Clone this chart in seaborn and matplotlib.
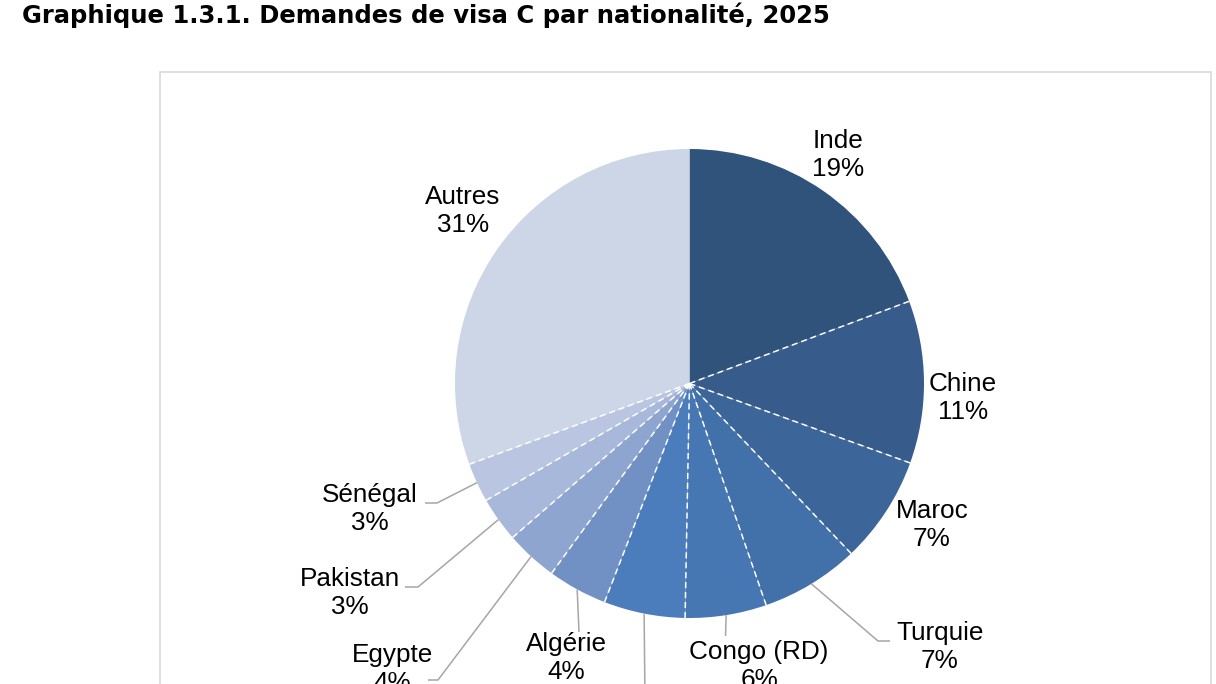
import numpy as np
import matplotlib
matplotlib.use("Agg")
import matplotlib.pyplot as plt
import seaborn as sns
from matplotlib.patches import Rectangle

# ---- data ----
countries = ["Inde", "Chine", "Maroc", "Turquie", "Congo (RD)", "Russie",
             "Algérie", "Egypte", "Pakistan", "Sénégal", "Autres"]
shares = [19.3, 11.2, 7.4, 6.8, 5.6, 5.6, 4.1, 3.6, 3.1, 2.7, 30.6]
title = "Graphique 1.3.1. Demandes de visa C par nationalité, 2025"

# ---- styles ----
colors = ["#30537B", "#375C8B", "#3C6699", "#4270A8", "#4677B2", "#4B7DBC",
          "#7190C4", "#8EA5CF", "#A7B8DA", "#BAC6E1", "#CDD6E7"]

sns.set_theme(style="white")
plt.rcParams["font.family"] = ["Liberation Sans", "DejaVu Sans"]

W, H = 1216, 684
fig = plt.figure(figsize=(W / 100, H / 100), dpi=100)
ax = fig.add_axes([0, 0, 1, 1])

cx, cy, r = 689.5, H - 383.5, 234.5
wedges, _ = ax.pie(shares, colors=colors, startangle=90, counterclock=False,
                   center=(cx, cy), radius=r,
                   wedgeprops=dict(linewidth=0))
ax.set_xlim(0, W)
ax.set_ylim(0, H)
ax.set_aspect("equal")
ax.axis("off")

# dashed white separators between slices
for w in wedges:
    ang = np.deg2rad(w.theta1)
    if abs(((w.theta1 - 90) + 180) % 360 - 180) < 0.5:
        continue
    ax.plot([cx, cx + r * np.cos(ang)], [cy, cy + r * np.sin(ang)],
            color="white", linewidth=1.1, linestyle=(0, (4, 2.5)), zorder=3)

# frame box
ax.add_patch(Rectangle((160, -20), 1211 - 160, (H - 72) + 20, fill=False,
                       edgecolor="#D9D9D9", linewidth=1.2, zorder=0))

# label layout (pixel coords, y downward): text centre, leader elbow points
layout = {
    "Inde": ((838, 155), None),
    "Chine": ((963, 398), None),
    "Maroc": ((932, 525), None),
    "Turquie": ((940, 647), [(878, 641), (890, 641)]),
    "Congo (RD)": ((759, 666), [(725.5, 636)]),
    "Russie": ((645, 730), [(645, 700)]),
    "Algérie": ((566, 658), [(579, 632)]),
    "Egypte": ((392, 669), [(438, 680), (428, 680)]),
    "Pakistan": ((350, 593), [(418, 587), (405, 587)]),
    "Sénégal": ((370, 509), [(437, 503), (425, 503)]),
    "Autres": ((463, 211), None),
}

for w, name, val in zip(wedges, countries, shares):
    (tx, ty), elbow = layout[name]
    ax.text(tx, H - ty, f"{name}\n{val:.0f}%", ha="center", va="center",
            fontsize=18.8, linespacing=1.2, color="#000000")
    if elbow:
        mid = np.deg2rad((w.theta1 + w.theta2) / 2)
        xs = [cx + r * np.cos(mid)] + [p[0] for p in elbow]
        ys = [cy + r * np.sin(mid)] + [H - p[1] for p in elbow]
        ax.plot(xs, ys, color="#A6A6A6", linewidth=1.1, solid_capstyle="butt")

fig.text(22 / W, 1 - 23 / H, title, ha="left", va="baseline",
         fontsize=17.5, fontweight="bold", family=["DejaVu Sans"], color="#000000")

fig.savefig("out.png", dpi=100)
